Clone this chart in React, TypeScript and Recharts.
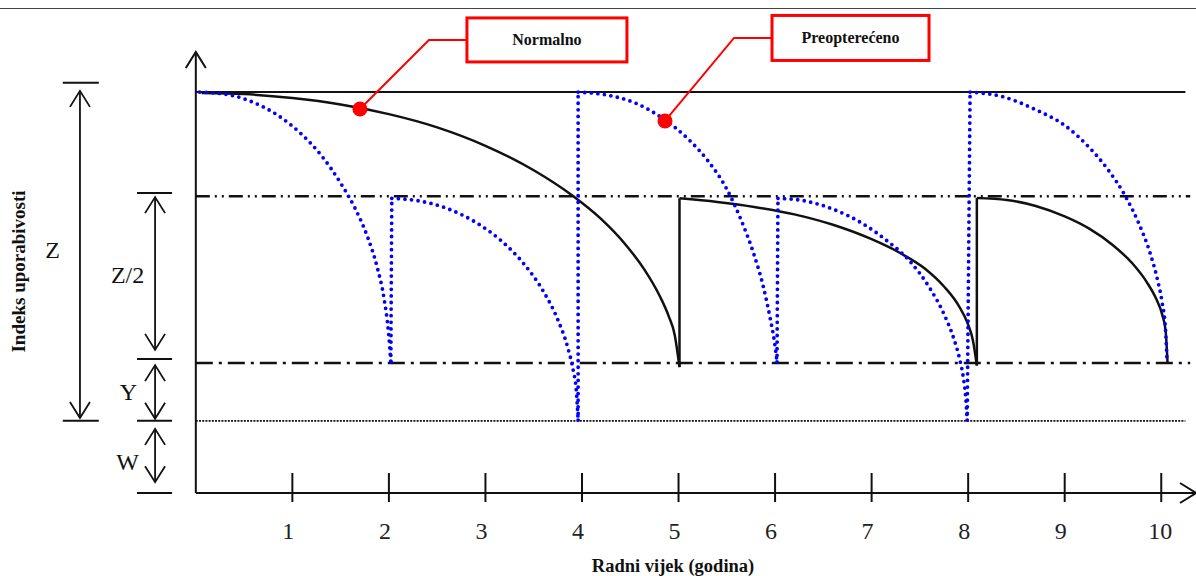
import React from 'react';
import { LineChart, Line, XAxis, YAxis, ReferenceLine, ReferenceDot } from 'recharts';

type Pt = { x: number; y: number };

const years = [1, 2, 3, 4, 5, 6, 7, 8, 9, 10];

// razine indeksa uporabivosti
const LEVEL_TOP = 100;
const LEVEL_HALF = 74;
const LEVEL_Y = 32.4;
const LEVEL_W = 18;

// Normalno (puna crna linija), po segmentima između skokova
const normalno: Pt[][] = [
  [
    { x: 0.06, y: 99.8 }, { x: 0.5, y: 99.5 }, { x: 1.0, y: 98.5 }, { x: 1.5, y: 96.9 },
    { x: 2.0, y: 94.5 }, { x: 2.5, y: 91.2 }, { x: 3.0, y: 86.6 }, { x: 3.5, y: 80.5 },
    { x: 3.9, y: 74.2 }, { x: 4.2, y: 68.3 }, { x: 4.45, y: 62.0 }, { x: 4.65, y: 55.6 },
    { x: 4.8, y: 49.4 }, { x: 4.9, y: 44.0 }, { x: 4.96, y: 39.5 }, { x: 5.01, y: 31.4 },
  ],
  [
    { x: 5.01, y: 73.5 }, { x: 5.4, y: 72.6 }, { x: 5.8, y: 71.3 }, { x: 6.2, y: 69.5 },
    { x: 6.6, y: 66.9 }, { x: 7.0, y: 63.3 }, { x: 7.3, y: 59.8 }, { x: 7.55, y: 56.0 },
    { x: 7.75, y: 51.5 }, { x: 7.9, y: 46.8 }, { x: 8.0, y: 42.0 }, { x: 8.05, y: 38.0 },
    { x: 8.09, y: 31.8 },
  ],
  [
    { x: 8.09, y: 73.6 }, { x: 8.4, y: 73.1 }, { x: 8.7, y: 71.6 }, { x: 9.0, y: 69.0 },
    { x: 9.25, y: 66.0 }, { x: 9.5, y: 61.8 }, { x: 9.7, y: 57.3 }, { x: 9.85, y: 52.6 },
    { x: 9.95, y: 48.3 }, { x: 10.01, y: 44.5 }, { x: 10.045, y: 40.5 }, { x: 10.065, y: 32.6 },
  ],
];

// Preopterećeno (plava točkasta linija)
const preoptereceno: Pt[][] = [
  [
    { x: 0.04, y: 100 }, { x: 0.35, y: 99.3 }, { x: 0.6, y: 97.4 }, { x: 0.85, y: 94.2 },
    { x: 1.1, y: 89.4 }, { x: 1.3, y: 84.2 }, { x: 1.5, y: 77.3 }, { x: 1.65, y: 71.0 },
    { x: 1.78, y: 63.8 }, { x: 1.88, y: 56.2 }, { x: 1.95, y: 48.5 }, { x: 1.995, y: 40.3 },
    { x: 2.02, y: 32.7 },
  ],
  [
    { x: 2.03, y: 73.5 }, { x: 2.3, y: 72.9 }, { x: 2.6, y: 71.0 }, { x: 2.9, y: 67.5 },
    { x: 3.15, y: 63.2 }, { x: 3.4, y: 57.1 }, { x: 3.6, y: 50.3 }, { x: 3.75, y: 43.2 },
    { x: 3.85, y: 36.5 }, { x: 3.91, y: 30.5 }, { x: 3.94, y: 25.9 }, { x: 3.96, y: 18.2 },
  ],
  [
    { x: 3.96, y: 100 }, { x: 4.25, y: 99.3 }, { x: 4.55, y: 97.3 }, { x: 4.85, y: 93.2 },
    { x: 5.1, y: 88.3 }, { x: 5.3, y: 83.0 }, { x: 5.5, y: 75.8 }, { x: 5.65, y: 68.0 },
    { x: 5.78, y: 59.6 }, { x: 5.88, y: 51.3 }, { x: 5.95, y: 43.5 }, { x: 5.995, y: 37.5 },
    { x: 6.02, y: 32.7 },
  ],
  [
    { x: 6.03, y: 73.5 }, { x: 6.3, y: 72.9 }, { x: 6.6, y: 70.8 }, { x: 6.9, y: 67.3 },
    { x: 7.15, y: 63.1 }, { x: 7.4, y: 57.7 }, { x: 7.6, y: 51.2 }, { x: 7.75, y: 44.6 },
    { x: 7.85, y: 38.6 }, { x: 7.91, y: 33.6 }, { x: 7.95, y: 28.8 }, { x: 7.975, y: 23.8 },
    { x: 7.99, y: 18.2 },
  ],
  [
    { x: 8.02, y: 100 }, { x: 8.35, y: 98.9 }, { x: 8.7, y: 95.6 }, { x: 9.0, y: 91.7 },
    { x: 9.25, y: 86.3 }, { x: 9.45, y: 80.6 }, { x: 9.62, y: 74.4 }, { x: 9.77, y: 67.1 },
    { x: 9.88, y: 60.2 }, { x: 9.96, y: 53.3 }, { x: 10.01, y: 47.4 }, { x: 10.045, y: 40.5 },
    { x: 10.06, y: 33.0 },
  ],
];

const callouts = [
  { label: 'Normalno', x: 1.7, y: 95.8 },
  { label: 'Preopterećeno', x: 4.86, y: 92.8 },
];

const jumps = (segs: Pt[][]) =>
  segs.slice(1).map((s, i) => [segs[i][segs[i].length - 1], s[0]]);

const SERIF = '"Liberation Serif", "Times New Roman", serif';
const INK = '#111';
const RED = '#f00';
const BLUE = '#0000ff';

const YearTick = (props: any) => {
  const { x, y, payload } = props;
  const shift = String(payload.value).length > 1 ? -1 : -4;
  return (
    <g>
      <line x1={x} x2={x} y1={y - 20} y2={y + 9} stroke={INK} strokeWidth={2} />
      <text x={x + shift} y={y + 46} textAnchor="middle" fontFamily={SERIF} fontSize={24} fill="#222">
        {payload.value}
      </text>
    </g>
  );
};

const chevron = (x: number, y: number, dir: 'up' | 'down' | 'right', w = 10, l = 16) => {
  if (dir === 'up') return `${x - w},${y + l} ${x},${y} ${x + w},${y + l}`;
  if (dir === 'down') return `${x - w},${y - l} ${x},${y} ${x + w},${y - l}`;
  return `${x - l},${y - w} ${x},${y} ${x - l},${y + w}`;
};

// os sa strelicom na kraju (x2, y2)
const axisArrow = (p: any) => {
  const { x1, y1, x2, y2 } = p;
  const dir = y2 < y1 ? 'up' : 'right';
  return (
    <g stroke={INK} strokeWidth={2} fill="none">
      <line x1={x1} y1={y1} x2={x2} y2={y2} />
      <polyline points={chevron(x2, y2, dir, 10, 16)} />
    </g>
  );
};

// dvostruka strelica za kote
const doubleArrow = (p: any) => {
  const { x1, y1, y2 } = p;
  const top = Math.min(y1, y2);
  const bot = Math.max(y1, y2);
  return (
    <g stroke={INK} strokeWidth={1.8} fill="none">
      <line x1={x1} x2={x1} y1={top} y2={bot} />
      <polyline points={chevron(x1, top, 'up')} />
      <polyline points={chevron(x1, bot, 'down')} />
    </g>
  );
};

const textShape =
  (text: string, size: number, opts: { bold?: boolean; rotate?: boolean; central?: boolean } = {}) =>
  (p: any) => (
    <text
      x={p.cx}
      y={p.cy}
      textAnchor="middle"
      dominantBaseline={opts.central ? 'central' : 'alphabetic'}
      transform={opts.rotate ? `rotate(-90, ${p.cx}, ${p.cy})` : undefined}
      fontFamily={SERIF}
      fontSize={size}
      fontWeight={opts.bold ? 'bold' : 'normal'}
      fill="#111"
    >
      {text}
    </text>
  );

const calloutShape = (label: string, rise: number, boxW: number, boxH: number) => (p: any) => {
  const { cx, cy } = p;
  const ey = cy - rise;
  const bx = cx + 107;
  return (
    <g>
      <polyline
        points={`${cx},${cy} ${cx + 69},${ey} ${bx},${ey}`}
        fill="none"
        stroke={RED}
        strokeWidth={2}
      />
      <rect x={bx} y={ey - boxH / 2} width={boxW} height={boxH} fill="#fff" stroke={RED} strokeWidth={3} />
      <text
        x={bx + boxW / 2}
        y={ey + 5}
        textAnchor="middle"
        fontFamily={SERIF}
        fontSize={16}
        fontWeight="bold"
        fill="#111"
      >
        {label}
      </text>
      <circle cx={cx} cy={cy} r={7.5} fill={RED} />
    </g>
  );
};

export default function App() {
  return (
    <div style={{ position: 'absolute', left: 0, top: 0, width: 1196, height: 576, background: '#fff' }}>
      <div style={{ position: 'absolute', left: 0, top: 8, width: 1196, height: 1, background: '#444' }} />
      <LineChart width={1196} height={576} margin={{ top: 52, right: 0, bottom: 0, left: 0 }}>
        <XAxis
          type="number"
          dataKey="x"
          domain={[-1.5, 10.36]}
          ticks={years}
          interval={0}
          axisLine={false}
          tickLine={false}
          tickSize={0}
          tickMargin={0}
          tick={(p: any) => <YearTick {...p} />}
          height={83}
          allowDataOverflow
        />
        <YAxis
          type="number"
          domain={[0, 110]}
          tick={false}
          axisLine={false}
          tickLine={false}
          width={51}
          allowDataOverflow
        />

        {/* razine */}
        <ReferenceLine
          segment={[{ x: 0, y: LEVEL_TOP }, { x: 10.25, y: LEVEL_TOP }]}
          stroke={INK}
          strokeWidth={2}
          ifOverflow="visible"
        />
        <ReferenceLine
          segment={[{ x: 0, y: LEVEL_HALF }, { x: 10.3, y: LEVEL_HALF }]}
          stroke={INK}
          strokeWidth={2.5}
          strokeDasharray="14 5 2 5 2 5"
          ifOverflow="visible"
        />
        <ReferenceLine
          segment={[{ x: 0, y: LEVEL_Y }, { x: 10.3, y: LEVEL_Y }]}
          stroke={INK}
          strokeWidth={2.5}
          strokeDasharray="17 6 3 6"
          ifOverflow="visible"
        />
        <ReferenceLine
          segment={[{ x: 0, y: LEVEL_W }, { x: 10.25, y: LEVEL_W }]}
          stroke={INK}
          strokeWidth={1.6}
          strokeDasharray="2 1.2"
          ifOverflow="visible"
        />

        {/* osi */}
        <ReferenceLine segment={[{ x: 0, y: 0 }, { x: 0, y: 110 }]} shape={axisArrow} ifOverflow="visible" />
        <ReferenceLine segment={[{ x: 0, y: 0 }, { x: 10.36, y: 0 }]} shape={axisArrow} ifOverflow="visible" />

        {/* kote lijevo */}
        {[102.3, 18].map((v) => (
          <ReferenceLine
            key={`zb${v}`}
            segment={[{ x: -1.378, y: v }, { x: -1.005, y: v }]}
            stroke={INK}
            strokeWidth={2}
            ifOverflow="visible"
          />
        ))}
        {[74.8, 33.4, 18, 0].map((v) => (
          <ReferenceLine
            key={`hb${v}`}
            segment={[{ x: -0.609, y: v }, { x: -0.246, y: v }]}
            stroke={INK}
            strokeWidth={2}
            ifOverflow="visible"
          />
        ))}
        <ReferenceLine segment={[{ x: -1.2, y: 100.3 }, { x: -1.2, y: 18.7 }]} shape={doubleArrow} ifOverflow="visible" />
        <ReferenceLine segment={[{ x: -0.422, y: 73.8 }, { x: -0.422, y: 35.7 }]} shape={doubleArrow} ifOverflow="visible" />
        <ReferenceLine segment={[{ x: -0.422, y: 31.9 }, { x: -0.422, y: 18.5 }]} shape={doubleArrow} ifOverflow="visible" />
        <ReferenceLine segment={[{ x: -0.422, y: 16 }, { x: -0.422, y: 2.7 }]} shape={doubleArrow} ifOverflow="visible" />

        <ReferenceDot x={-1.484} y={58.6} r={0} shape={textShape('Z', 24)} ifOverflow="visible" />
        <ReferenceDot x={-0.707} y={52.4} r={0} shape={textShape('Z/2', 24)} ifOverflow="visible" />
        <ReferenceDot x={-0.697} y={23.2} r={0} shape={textShape('Y', 24)} ifOverflow="visible" />
        <ReferenceDot x={-0.707} y={5.7} r={0} shape={textShape('W', 24)} ifOverflow="visible" />
        <ReferenceDot
          x={-1.837}
          y={55.25}
          r={0}
          shape={textShape('Indeks uporabivosti', 19, { bold: true, rotate: true, central: true })}
          ifOverflow="visible"
        />
        <ReferenceDot
          x={4.943}
          y={-19.7}
          r={0}
          shape={textShape('Radni vijek (godina)', 18.5, { bold: true })}
          ifOverflow="visible"
        />

        {/* Normalno */}
        {normalno.map((seg, i) => (
          <Line
            key={`n${i}`}
            data={seg}
            dataKey="y"
            type="monotoneX"
            stroke={INK}
            strokeWidth={2.5}
            dot={false}
            activeDot={false}
            isAnimationActive={false}
          />
        ))}
        {jumps(normalno).map((seg, i) => (
          <Line
            key={`nj${i}`}
            data={seg}
            dataKey="y"
            type="linear"
            stroke={INK}
            strokeWidth={2.5}
            dot={false}
            activeDot={false}
            isAnimationActive={false}
          />
        ))}

        {/* Preopterećeno */}
        {preoptereceno.map((seg, i) => (
          <Line
            key={`p${i}`}
            data={seg}
            dataKey="y"
            type="monotoneX"
            stroke={BLUE}
            strokeWidth={3.8}
            strokeDasharray="0 6.6"
            strokeLinecap="round"
            dot={false}
            activeDot={false}
            isAnimationActive={false}
          />
        ))}
        {jumps(preoptereceno).map((seg, i) => (
          <Line
            key={`pj${i}`}
            data={seg}
            dataKey="y"
            type="linear"
            stroke={BLUE}
            strokeWidth={3.8}
            strokeDasharray="0 6.6"
            strokeLinecap="round"
            dot={false}
            activeDot={false}
            isAnimationActive={false}
          />
        ))}

        <ReferenceDot
          x={callouts[0].x}
          y={callouts[0].y}
          r={0}
          shape={calloutShape(callouts[0].label, 69, 160, 44)}
          ifOverflow="visible"
        />
        <ReferenceDot
          x={callouts[1].x}
          y={callouts[1].y}
          r={0}
          shape={calloutShape(callouts[1].label, 83, 157, 45)}
          ifOverflow="visible"
        />
      </LineChart>
    </div>
  );
}
